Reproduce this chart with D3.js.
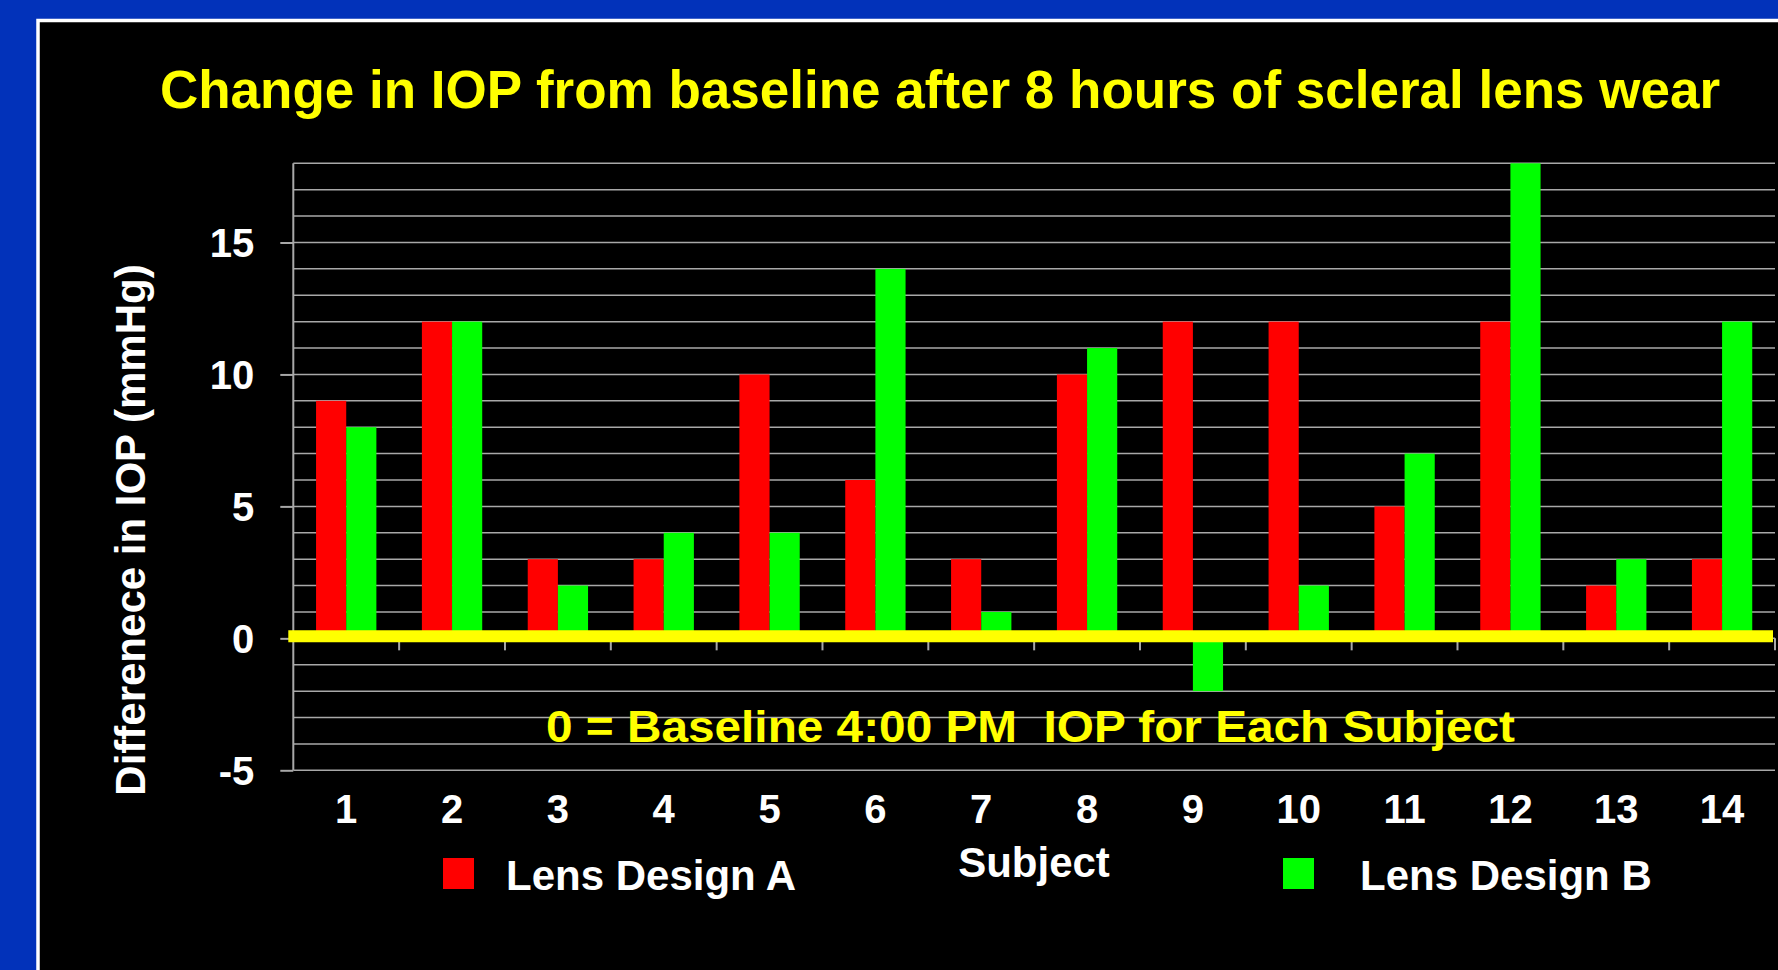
<!DOCTYPE html>
<html>
<head>
<meta charset="utf-8">
<script src="https://cdn.jsdelivr.net/npm/d3@7"></script>
<style>
  html, body { margin: 0; padding: 0; background: #0232BA; overflow: hidden; }
  svg { display: block; }
  text { font-family: "Liberation Sans", Arial, sans-serif; font-weight: bold; }
</style>
</head>
<body>
<svg id="chart" width="1778" height="970"></svg>
<script>
const subjects = ["1","2","3","4","5","6","7","8","9","10","11","12","13","14"];
const seriesNames = ["Lens Design A", "Lens Design B"];
const designA = [9, 12, 3, 3, 10, 6, 3, 10, 12, 12, 5, 12, 2, 3];
const designB = [8, 12, 2, 4, 4, 14, 1, 11, -2, 2, 7, 18, 3, 12];
const seriesColors = ["#FF0000", "#00FF00"];
const yTickValues = [-5, 0, 5, 10, 15];
const yTickLabels = ["-5", "0", "5", "10", "15"];
const titleText = "Change in IOP from baseline after 8 hours of scleral lens wear";
const yAxisTitle = "Differenece in IOP (mmHg)";
const xAxisTitle = "Subject";
const annotationText = "0 = Baseline 4:00 PM  IOP for Each Subject";

const svg = d3.select("#chart");

// slide panel
svg.append("rect")
  .attr("x", 38).attr("y", 20.5)
  .attr("width", 2000).attr("height", 2000)
  .attr("fill", "#000").attr("stroke", "#fff").attr("stroke-width", 3.5);

const plot = { left: 293.3, right: 1775, top: 163.3, bottom: 770.3 };

const y = d3.scaleLinear().domain([-5, 18]).range([plot.bottom, plot.top]);
const x = d3.scaleBand().domain(subjects).range([plot.left, plot.right])
  .paddingInner(0.43).paddingOuter(0.215);
const xs = d3.scaleBand().domain(seriesNames).range([0, x.bandwidth()]).padding(0);

const data = subjects.map((s, i) => ({ subject: s, values: [designA[i], designB[i]] }));

// gridlines every unit
const gridVals = d3.range(-5, 19, 1);
svg.append("g").selectAll("line").data(gridVals).join("line")
  .attr("x1", plot.left).attr("x2", plot.right)
  .attr("y1", d => y(d)).attr("y2", d => y(d))
  .attr("stroke", "#a8a8a8").attr("stroke-width", 1.5);

// y axis
const yAxis = svg.append("g").attr("transform", `translate(${plot.left},0)`)
  .call(d3.axisLeft(y).tickValues(yTickValues).tickSize(13).tickPadding(26)
    .tickFormat((d, i) => yTickLabels[i]));
yAxis.select(".domain").attr("stroke", "#a8a8a8").attr("stroke-width", 2)
  .attr("d", `M0,${plot.bottom}V${plot.top}`);
yAxis.selectAll(".tick line").attr("stroke", "#a8a8a8").attr("stroke-width", 2);
yAxis.selectAll(".tick text").attr("fill", "#fff").attr("font-size", 40)
  .attr("font-family", "Liberation Sans, Arial, sans-serif").attr("font-weight", "bold")
  .attr("dy", "0.36em");

// x boundary ticks below zero line
const boundaries = subjects.map((s, i) => i + 1);
svg.append("g").selectAll("line").data(boundaries).join("line")
  .attr("x1", d => plot.left + d * x.step()).attr("x2", d => plot.left + d * x.step())
  .attr("y1", y(0)).attr("y2", y(0) + 12)
  .attr("stroke", "#a8a8a8").attr("stroke-width", 2);

// bars
const groups = svg.append("g").selectAll("g").data(data).join("g")
  .attr("transform", d => `translate(${x(d.subject)},0)`);
groups.selectAll("rect").data(d => d.values.map((v, k) => ({ v, k }))).join("rect")
  .attr("x", d => xs(seriesNames[d.k]))
  .attr("width", xs.bandwidth())
  .attr("y", d => y(Math.max(0, d.v)))
  .attr("height", d => Math.abs(y(d.v) - y(0)))
  .attr("fill", d => seriesColors[d.k]);

// yellow baseline
svg.append("line")
  .attr("x1", plot.left - 5).attr("x2", plot.right - 2)
  .attr("y1", y(0) - 2).attr("y2", y(0) - 2)
  .attr("stroke", "#FFFF00").attr("stroke-width", 12);

// x labels
svg.append("g").selectAll("text").data(subjects).join("text")
  .attr("x", d => x(d) + x.bandwidth() / 2)
  .attr("y", 823)
  .attr("text-anchor", "middle")
  .attr("fill", "#fff").attr("font-size", 40)
  .text(d => d);

// title
svg.append("text").attr("x", 940).attr("y", 108)
  .attr("text-anchor", "middle").attr("fill", "#FFFF00").attr("font-size", 53)
  .text(titleText);

// y title
svg.append("text")
  .attr("transform", "translate(145,530) rotate(-90)")
  .attr("text-anchor", "middle").attr("fill", "#fff").attr("font-size", 42)
  .text(yAxisTitle);

// x title
svg.append("text").attr("x", 1034).attr("y", 877)
  .attr("text-anchor", "middle").attr("fill", "#fff").attr("font-size", 42)
  .text(xAxisTitle);

// annotation
svg.append("text").attr("x", 546).attr("y", 742)
  .attr("fill", "#FFFF00").attr("font-size", 45)
  .attr("textLength", 969).attr("lengthAdjust", "spacingAndGlyphs")
  .style("white-space", "pre")
  .text(annotationText);

// legend
const legendPos = [{ sx: 443, tx: 506 }, { sx: 1283, tx: 1360 }];
const legend = svg.append("g").selectAll("g").data(seriesNames).join("g");
legend.append("rect")
  .attr("x", (d, i) => legendPos[i].sx).attr("y", 858)
  .attr("width", 31).attr("height", 31)
  .attr("fill", (d, i) => seriesColors[i]);
legend.append("text")
  .attr("x", (d, i) => legendPos[i].tx).attr("y", 890)
  .attr("fill", "#fff").attr("font-size", 42)
  .text(d => d);
</script>
</body>
</html>
